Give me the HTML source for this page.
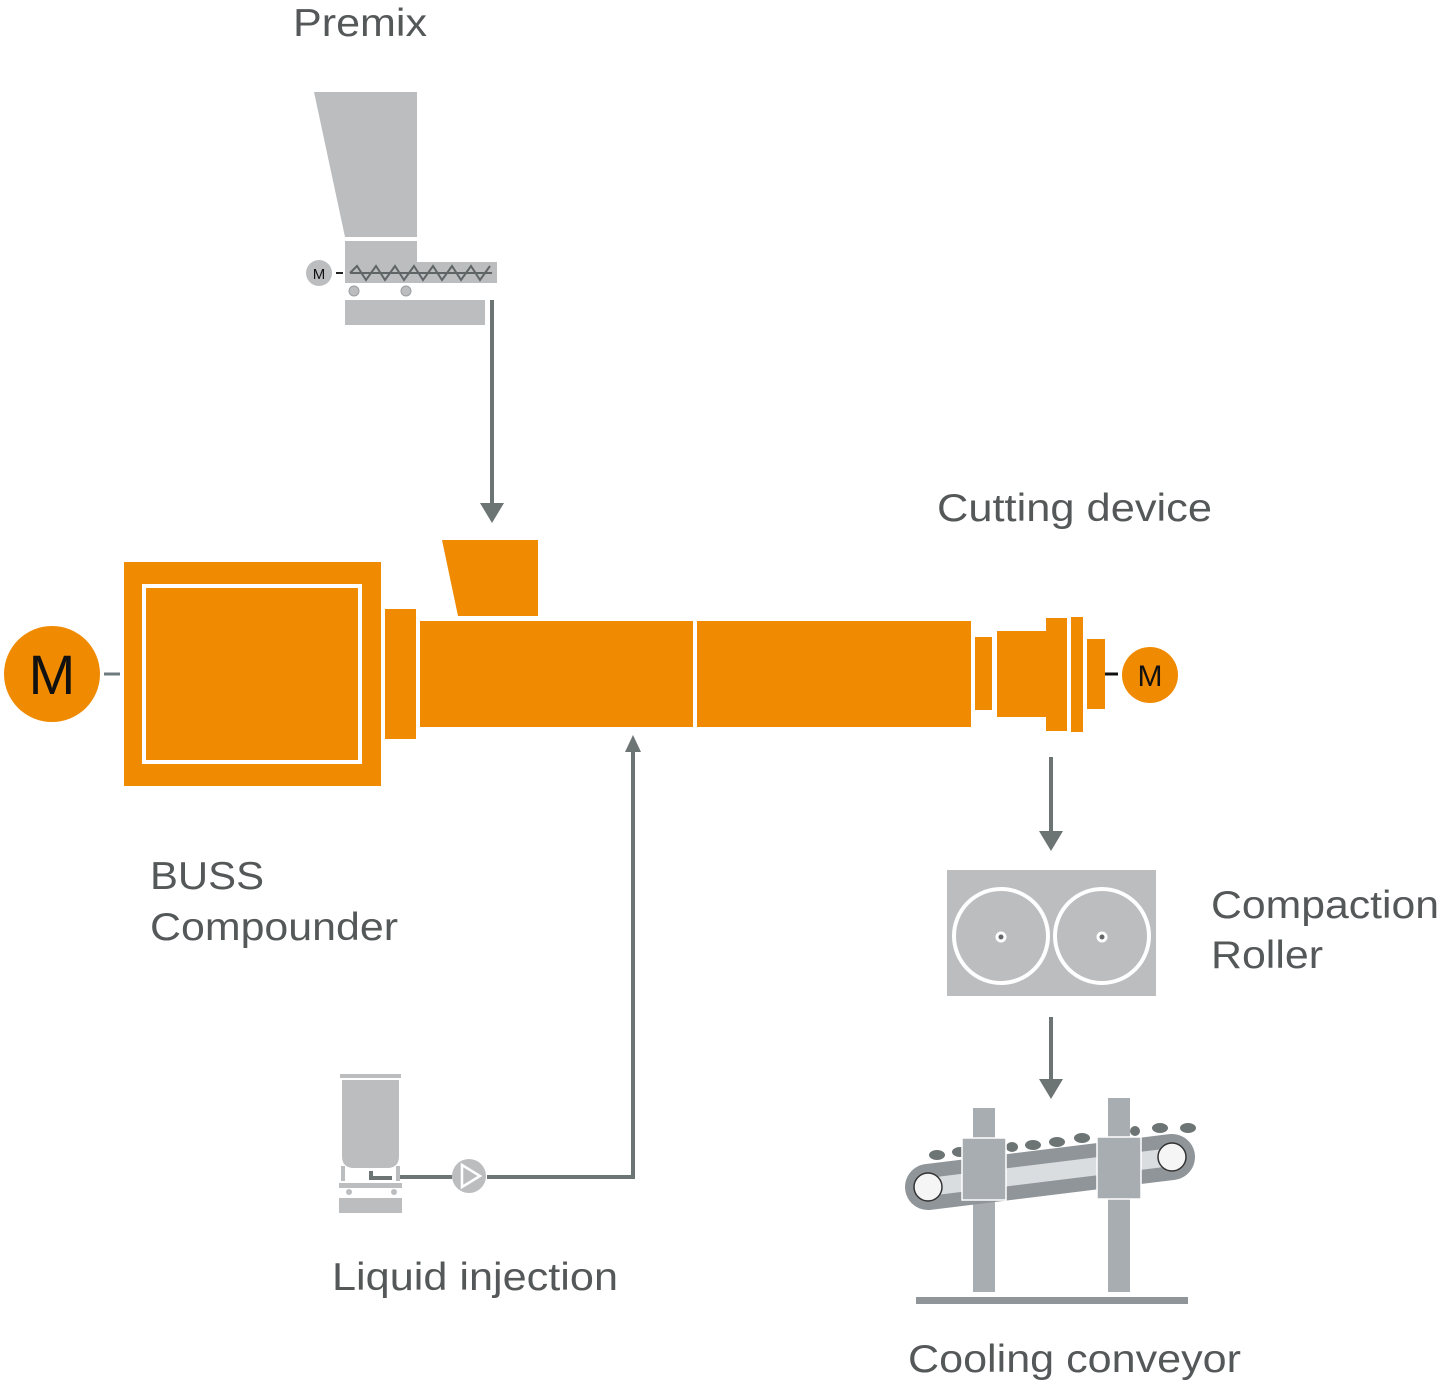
<!DOCTYPE html>
<html><head><meta charset="utf-8"><style>
html,body{margin:0;padding:0;background:#fff;}
svg{display:block;}
text{font-family:"Liberation Sans",Arial,sans-serif;}
</style></head><body>
<svg width="1441" height="1387" viewBox="0 0 1441 1387" xmlns="http://www.w3.org/2000/svg">
<g fill="#555859" font-size="39">
<text x="293" y="36" textLength="134" lengthAdjust="spacingAndGlyphs">Premix</text>
<text x="937" y="521" textLength="275" lengthAdjust="spacingAndGlyphs">Cutting device</text>
<text x="150" y="889" textLength="114" lengthAdjust="spacingAndGlyphs">BUSS</text>
<text x="150" y="940" textLength="248" lengthAdjust="spacingAndGlyphs">Compounder</text>
<text x="1211" y="918" textLength="228" lengthAdjust="spacingAndGlyphs">Compaction</text>
<text x="1211" y="968" textLength="112" lengthAdjust="spacingAndGlyphs">Roller</text>
<text x="332" y="1290" textLength="286" lengthAdjust="spacingAndGlyphs">Liquid injection</text>
<text x="908" y="1372" textLength="333" lengthAdjust="spacingAndGlyphs">Cooling conveyor</text>
</g>
<!-- premix feeder -->
<g fill="#bbbdbf">
<polygon points="314,92 417,92 417,237 345,237"/>
<rect x="345" y="241" width="72" height="22"/>
<rect x="345" y="262" width="152" height="21"/>
<rect x="345" y="300" width="140" height="25"/>
<circle cx="354" cy="291" r="5" stroke="#9a9c9e" stroke-width="1"/>
<circle cx="406" cy="291" r="5" stroke="#9a9c9e" stroke-width="1"/>
<circle cx="319" cy="273" r="13"/>
</g>
<text x="319" y="279" font-size="15" text-anchor="middle" fill="#111">M</text>
<line x1="336" y1="273" x2="343" y2="273" stroke="#222" stroke-width="2"/>
<polyline points="350,273 357,266 366,280 376,266 385,280 395,266 404,280 414,266 423,280 433,266 442,280 452,266 461,280 471,266 480,280 490,266" fill="none" stroke="#5f6466" stroke-width="2"/>
<line x1="350" y1="273" x2="492" y2="273" stroke="#5f6466" stroke-width="2"/>
<!-- arrows -->
<g stroke="#6d7474" stroke-width="4" fill="none">
<line x1="492" y1="300" x2="492" y2="506"/>
<line x1="1051" y1="757" x2="1051" y2="834"/>
<line x1="1051" y1="1017" x2="1051" y2="1082"/>
<polyline points="400,1177 452,1177"/>
<polyline points="487,1177 633,1177 633,752"/>
</g>
<g fill="#6d7474">
<polygon points="480,503 504,503 492,523"/>
<polygon points="1039,831 1063,831 1051,851"/>
<polygon points="1039,1079 1063,1079 1051,1099"/>
<polygon points="625,752 641,752 633,735"/>
</g>
<!-- compounder -->
<g fill="#f08a00">
<circle cx="52" cy="674" r="48"/>
<rect x="124" y="562" width="257" height="224"/>
<rect x="385" y="609" width="31" height="130"/>
<polygon points="442,540 538,540 538,616 458,616"/>
<rect x="420" y="621" width="273" height="106"/>
<rect x="697" y="621" width="274" height="106"/>
<rect x="975" y="637" width="17" height="73"/>
<rect x="997" y="631" width="50" height="86"/>
<rect x="1046" y="618" width="21" height="113"/>
<rect x="1071" y="617" width="12" height="115"/>
<rect x="1087" y="639" width="18" height="70"/>
<circle cx="1150" cy="675" r="28"/>
</g>
<rect x="144" y="586" width="216" height="176" fill="none" stroke="#fff" stroke-width="4"/>
<line x1="104" y1="674" x2="120" y2="674" stroke="#6d7a80" stroke-width="3"/>
<line x1="1105" y1="674" x2="1118" y2="674" stroke="#111" stroke-width="3"/>
<text x="52" y="694" font-size="56" text-anchor="middle" fill="#111">M</text>
<text x="1150" y="686" font-size="30" text-anchor="middle" fill="#111">M</text>
<!-- compaction roller -->
<rect x="947" y="870" width="209" height="126" fill="#bbbdbf"/>
<g fill="none" stroke="#fff" stroke-width="4">
<circle cx="1001" cy="936" r="47"/>
<circle cx="1102" cy="936" r="47"/>
</g>
<g fill="#666" stroke="#fff" stroke-width="3">
<circle cx="1001" cy="937" r="4"/>
<circle cx="1102" cy="937" r="4"/>
</g>
<!-- liquid injection -->
<g fill="#bbbdbf">
<rect x="340" y="1074" width="61" height="4"/>
<path d="M342,1080 H399 V1156 Q399,1168 387,1168 H354 Q342,1168 342,1156 Z"/>
<rect x="341" y="1166" width="4" height="15"/>
<rect x="396" y="1166" width="4" height="15"/>
<rect x="339" y="1183" width="63" height="5"/>
<circle cx="349" cy="1192" r="3"/>
<circle cx="394" cy="1192" r="3"/>
<rect x="339" y="1198" width="63" height="15"/>
<circle cx="469" cy="1176" r="17"/>
</g>
<polyline points="371,1171 371,1178 392,1178" fill="none" stroke="#6d7474" stroke-width="4"/>
<polygon points="462,1165 462,1187 480,1176" fill="none" stroke="#fff" stroke-width="2.5"/>
<!-- conveyor -->
<g fill="#a8adb1">
<rect x="973" y="1108" width="22" height="184"/>
<rect x="1108" y="1098" width="22" height="194"/>
<rect x="916" y="1297" width="272" height="7" fill="#8f9599"/>
</g>
<g fill="#6d7474">
<ellipse cx="937" cy="1155" rx="8" ry="5"/>
<ellipse cx="960" cy="1152" rx="8" ry="5"/>
<ellipse cx="1033" cy="1145" rx="8" ry="5"/>
<ellipse cx="1057" cy="1142" rx="8" ry="5"/>
<ellipse cx="1082" cy="1138" rx="8" ry="5"/>
<ellipse cx="1160" cy="1128" rx="8" ry="5"/>
<ellipse cx="1188" cy="1128" rx="8" ry="5"/>
<ellipse cx="1012" cy="1147" rx="6" ry="5"/>
<ellipse cx="1135" cy="1131" rx="5" ry="5"/>
</g>
<line x1="928" y1="1187" x2="1172" y2="1157" stroke="#8f9599" stroke-width="46" stroke-linecap="round"/>
<line x1="928" y1="1187" x2="1172" y2="1157" stroke="#d9dde0" stroke-width="18"/>
<circle cx="928" cy="1187" r="14" fill="#f5f5f5" stroke="#333" stroke-width="1.5"/>
<circle cx="1172" cy="1157" r="14" fill="#f5f5f5" stroke="#333" stroke-width="1.5"/>
<g fill="#a8adb1" stroke="#fff" stroke-width="1.5">
<rect x="962" y="1138" width="44" height="62"/>
<rect x="1097" y="1137" width="44" height="62"/>
</g>
</svg>
</body></html>
